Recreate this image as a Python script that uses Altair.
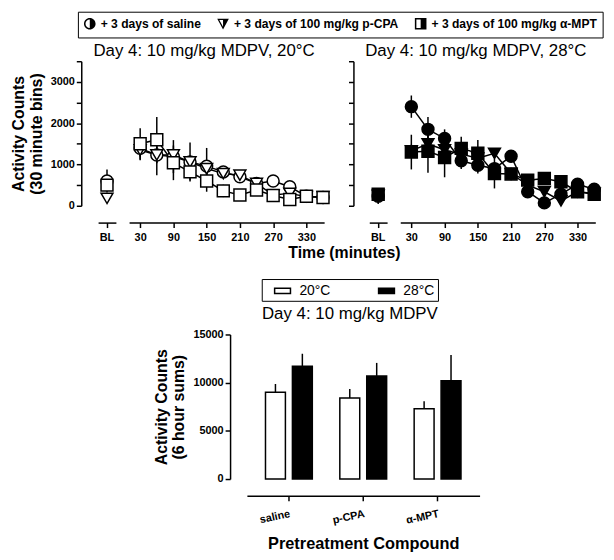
import altair as alt
import pandas as pd

# ---------------- data ----------------
times = [30, 60, 90, 120, 150, 180, 210, 240, 270, 300, 330, 360]
tick_times = [30, 90, 150, 210, 270, 330]
series = ["saline", "p-CPA", "α-MPT"]
shapes = ["circle", "triangle-down", "square"]

# 20 °C (open symbols)
sal20 = [1390, 1230, 1190, 1060, 960, 820, 700, 540, 600, 460, 230, 200]
sal20_sem = [200, 490, 400, 470, 440, 120, 80, 80, 60, 120, 50, 40]
pcpa20 = [1350, 1230, 1230, 1060, 900, 780, 740, 540, 260, 300, 220, 220]
pcpa20_sem = [250, 200, 150, 150, 150, 100, 100, 60, 50, 60, 50, 40]
ampt20 = [1500, 1600, 1040, 820, 600, 360, 260, 380, 250, 150, 230, 200]
ampt20_sem = [380, 550, 420, 200, 260, 150, 60, 80, 60, 50, 50, 40]

# 28 °C (filled symbols)
sal28 = [2400, 1850, 1630, 1090, 980, 900, 1200, 340, 70, 280, 520, 400]
sal28_sem = [270, 300, 220, 200, 200, 150, 100, 100, 50, 80, 80, 60]
pcpa28 = [1330, 1500, 1350, 1250, 1150, 1270, 780, 500, 340, 120, 340, 300]
pcpa28_sem = [150, 200, 150, 200, 200, 120, 100, 100, 80, 60, 60, 50]
ampt28 = [1300, 1320, 1170, 1390, 1270, 780, 770, 620, 660, 580, 340, 280]
ampt28_sem = [420, 520, 480, 280, 320, 360, 150, 120, 100, 120, 80, 60]

# baseline (BL)
bl20 = [600, 180, 500]
bl20_sem = [280, 50, 100]
bl28 = [230, 250, 280]
bl28_sem = [190, 100, 140]

# 6-hour sums
compounds = ["saline", "p-CPA", "α-MPT"]
temps = ["20°C", "28°C"]
sum20 = [9000, 8400, 7300]
sum20_sem = [860, 950, 780]
sum28 = [11700, 10700, 10200]
sum28_sem = [1300, 1350, 2670]

legend_labels = ["+ 3 days of saline", "+ 3 days of 100 mg/kg p-CPA",
                 "+ 3 days of 100 mg/kg α-MPT"]

# ---------------- tables ----------------
rows = []
for temp, sets in [("20", [(sal20, sal20_sem), (pcpa20, pcpa20_sem), (ampt20, ampt20_sem)]),
                   ("28", [(sal28, sal28_sem), (pcpa28, pcpa28_sem), (ampt28, ampt28_sem)])]:
    for s, (vals, sems) in zip(series, sets):
        for t, v, e in zip(times, vals, sems):
            rows.append({"temp": temp, "series": s, "time": t, "mean": v,
                         "lo": v - e, "hi": v + e})
ts_df = pd.DataFrame(rows)

rows = []
for temp, vals, sems in [("20", bl20, bl20_sem), ("28", bl28, bl28_sem)]:
    for s, v, e in zip(series, vals, sems):
        rows.append({"temp": temp, "series": s, "xcat": "BL", "mean": v,
                     "lo": v - e, "hi": v + e})
bl_df = pd.DataFrame(rows)

leg_df = pd.DataFrame({"label": legend_labels, "xcat": ["BL"] * 3, "mean": [0] * 3})

rows = []
for c, a, ae, b, be in zip(compounds, sum20, sum20_sem, sum28, sum28_sem):
    rows.append({"compound": c, "temp": temps[0], "mean": a, "hi": a + ae})
    rows.append({"compound": c, "temp": temps[1], "mean": b, "hi": b + be})
bar_df = pd.DataFrame(rows)

# ---------------- styling helpers ----------------
FONT = "Liberation Sans"
yscale = alt.Scale(domain=[0, 3500], nice=False)
y_ticks = [0, 500, 1000, 1500, 2000, 2500, 3000, 3500]

# half-filled legend symbols drawn as fill-only paths (outline ring + right half)
half_circle = ("M 0 -1 A 1 1 0 0 1 0 1 A 1 1 0 0 1 0 -1 Z "
               "M 0 -0.74 A 0.74 0.74 0 0 0 0 0.74 A 0.74 0.74 0 0 0 0 -0.74 Z "
               "M 0 -0.74 A 0.74 0.74 0 0 1 0 0.74 Z")
half_tri = ("M -1 -0.85 L 1 -0.85 L 0 1 Z "
            "M -0.64 -0.62 L 0 0.55 L 0.64 -0.62 Z "
            "M 0 -0.62 L 0.64 -0.62 L 0 0.55 Z")
half_sq = ("M -1 -1 L 1 -1 L 1 1 L -1 1 Z "
           "M -0.74 -0.74 L -0.74 0.74 L 0.74 0.74 L 0.74 -0.74 Z "
           "M 0 -0.74 L 0.74 -0.74 L 0.74 0.74 L 0 0.74 Z")


def bl_panel(temp, fillc, with_labels, with_legend):
    base = alt.Chart(bl_df).transform_filter(alt.datum.temp == temp)
    x = alt.X("xcat:N", scale=alt.Scale(domain=["BL"]),
              axis=alt.Axis(title=None, offset=17, labelAngle=0, labelPadding=4))
    if with_labels:
        yaxis = alt.Axis(values=y_ticks, format="d", offset=17,
                         labelExpr="datum.value % 1000 == 0 && datum.value < 3500 ? datum.label : ''",
                         title=["Activity Counts", "(30 minute bins)"], titlePadding=6)
    else:
        yaxis = alt.Axis(values=y_ticks, offset=16, labels=False, title=None)
    y = alt.Y("mean:Q", scale=yscale, axis=yaxis)
    err = base.mark_rule(color="black", strokeWidth=1.5).encode(
        x=x, y=alt.Y("lo:Q", scale=yscale, axis=yaxis), y2="hi:Q")
    pts = [base.transform_filter(alt.datum.series == s).mark_point(
        shape=shp, filled=True, fill=fillc, stroke="black", strokeWidth=1.5,
        size=145, opacity=1).encode(x=x, y=y) for s, shp in zip(series, shapes)]
    layers = [err] + pts
    if with_legend:
        leg = alt.Chart(leg_df).transform_filter("false").mark_point(
            filled=True, fill="black", opacity=1
        ).encode(
            x=x, y=y,
            shape=alt.Shape("label:N",
                            scale=alt.Scale(domain=legend_labels,
                                            range=[half_circle, half_tri, half_sq]),
                            legend=alt.Legend(
                                orient="none", legendX=-20.4, legendY=-50,
                                direction="horizontal", columns=3, title=None,
                                strokeColor="black", padding=5,
                                symbolSize=137, symbolFillColor="black",
                                labelFont=FONT, labelFontSize=12.2,
                                labelFontWeight="bold", labelColor="black",
                                labelLimit=400, columnPadding=12.6, labelOffset=4)))
        layers.append(leg)
    return alt.layer(*layers).properties(width=18, height=146)


def time_panel(temp, fillc, title, title_dx, with_xtitle):
    base = alt.Chart(ts_df).transform_filter(alt.datum.temp == temp)
    if with_xtitle:
        xaxis = alt.Axis(values=tick_times, offset=17, title="Time (minutes)",
                         titleX=217, titlePadding=2, labelPadding=4)
    else:
        xaxis = alt.Axis(values=tick_times, offset=17, title=None, labelPadding=4)
    x = alt.X("time:Q", scale=alt.Scale(domain=[10, 362], nice=False, zero=False),
              axis=xaxis)
    y = alt.Y("mean:Q", scale=yscale, axis=None)
    lines = base.mark_line(color="black", strokeWidth=1.5).encode(
        x=x, y=y, detail="series:N")
    err = base.mark_rule(color="black", strokeWidth=1.5).encode(
        x=x, y=alt.Y("lo:Q", scale=yscale, axis=None), y2="hi:Q")
    pts = [base.transform_filter(alt.datum.series == s).mark_point(
        shape=shp, filled=True, fill=fillc, stroke="black", strokeWidth=1.5,
        size=145, opacity=1).encode(x=x, y=y) for s, shp in zip(series, shapes)]
    return alt.layer(lines, err, *pts).properties(
        width=197, height=146,
        title=alt.TitleParams(text=title, fontSize=17, fontWeight="normal", font=FONT,
                              anchor="middle", frame="group", dx=title_dx, offset=1,
                              color="black"))


def spacer(w, h):
    return alt.Chart(pd.DataFrame({"s": [""]})).mark_text().encode(
        text="s:N").properties(width=w, height=h)


# ---------------- bar chart ----------------
xb = alt.X("compound:N", scale=alt.Scale(domain=compounds, paddingInner=0.37, paddingOuter=0.25),
           axis=alt.Axis(title="Pretreatment Compound", offset=17, labelAngle=-12,
                         labelPadding=7, titleFontSize=16.5, titlePadding=10))
xo = alt.XOffset("temp:N", scale=alt.Scale(domain=temps, paddingInner=0.26))
yb_axis = alt.Axis(values=[0, 5000, 10000, 15000], format="d", offset=17,
                   title=["Activity Counts", "(6 hour sums)"], titlePadding=6)
yb = alt.Y("mean:Q", scale=alt.Scale(domain=[0, 15000], nice=False), axis=yb_axis)
bar_err = alt.Chart(bar_df).mark_rule(color="black", strokeWidth=1.5).encode(
    x=xb, xOffset=xo, y=yb, y2="hi:Q")
bars = alt.Chart(bar_df).mark_bar(stroke="black", strokeWidth=1.5).encode(
    x=xb, xOffset=xo, y=yb,
    color=alt.Color("temp:N", scale=alt.Scale(domain=temps, range=["white", "black"]),
                    legend=alt.Legend(orient="none", legendX=165.3, legendY=220,
                                      direction="horizontal", columns=2, title=None,
                                      strokeColor="black", padding=3,
                                      symbolType="M -1 -0.33 L 1 -0.33 L 1 0.33 L -1 0.33 Z",
                                      symbolSize=256, symbolStrokeWidth=1.5,
                                      symbolStrokeColor="black", symbolOffset=9,
                                      labelFont=FONT, labelFontSize=14,
                                      labelColor="black", columnPadding=38,
                                      labelOffset=8)))
bottom = alt.layer(bar_err, bars).properties(
    width=235, height=146,
    title=alt.TitleParams(text="Day 4: 10 mg/kg MDPV", fontSize=17, fontWeight="normal",
                          font=FONT, anchor="middle", frame="group", dx=-13.5, offset=6,
                          color="black"))

top_row = alt.hconcat(
    bl_panel("20", "white", True, True),
    time_panel("20", "white", "Day 4: 10 mg/kg MDPV, 20°C", -22.8, True),
    spacer(18.1, 146),
    bl_panel("28", "black", False, False),
    time_panel("28", "black", "Day 4: 10 mg/kg MDPV, 28°C", -22.2, False),
    spacing=13.3, bounds="flush")

bottom_row = alt.hconcat(spacer(140, 146), bottom, spacing=10.3, bounds="flush")

chart = alt.vconcat(top_row, bottom_row, spacing=45).properties(
    padding={"left": 2, "top": 0, "right": 2, "bottom": 2}
).configure_view(stroke=None).configure_axis(
    grid=False, domainColor="black", domainWidth=1.5, tickColor="black", tickWidth=1.5,
    tickSize=5, labelFont=FONT, labelFontSize=11, labelFontWeight="bold",
    labelColor="black", titleFont=FONT, titleFontSize=16, titleFontWeight="bold",
    titleColor="black", labelPadding=2
)

chart.save("out.html", embed_options={"renderer": "svg", "actions": False})
